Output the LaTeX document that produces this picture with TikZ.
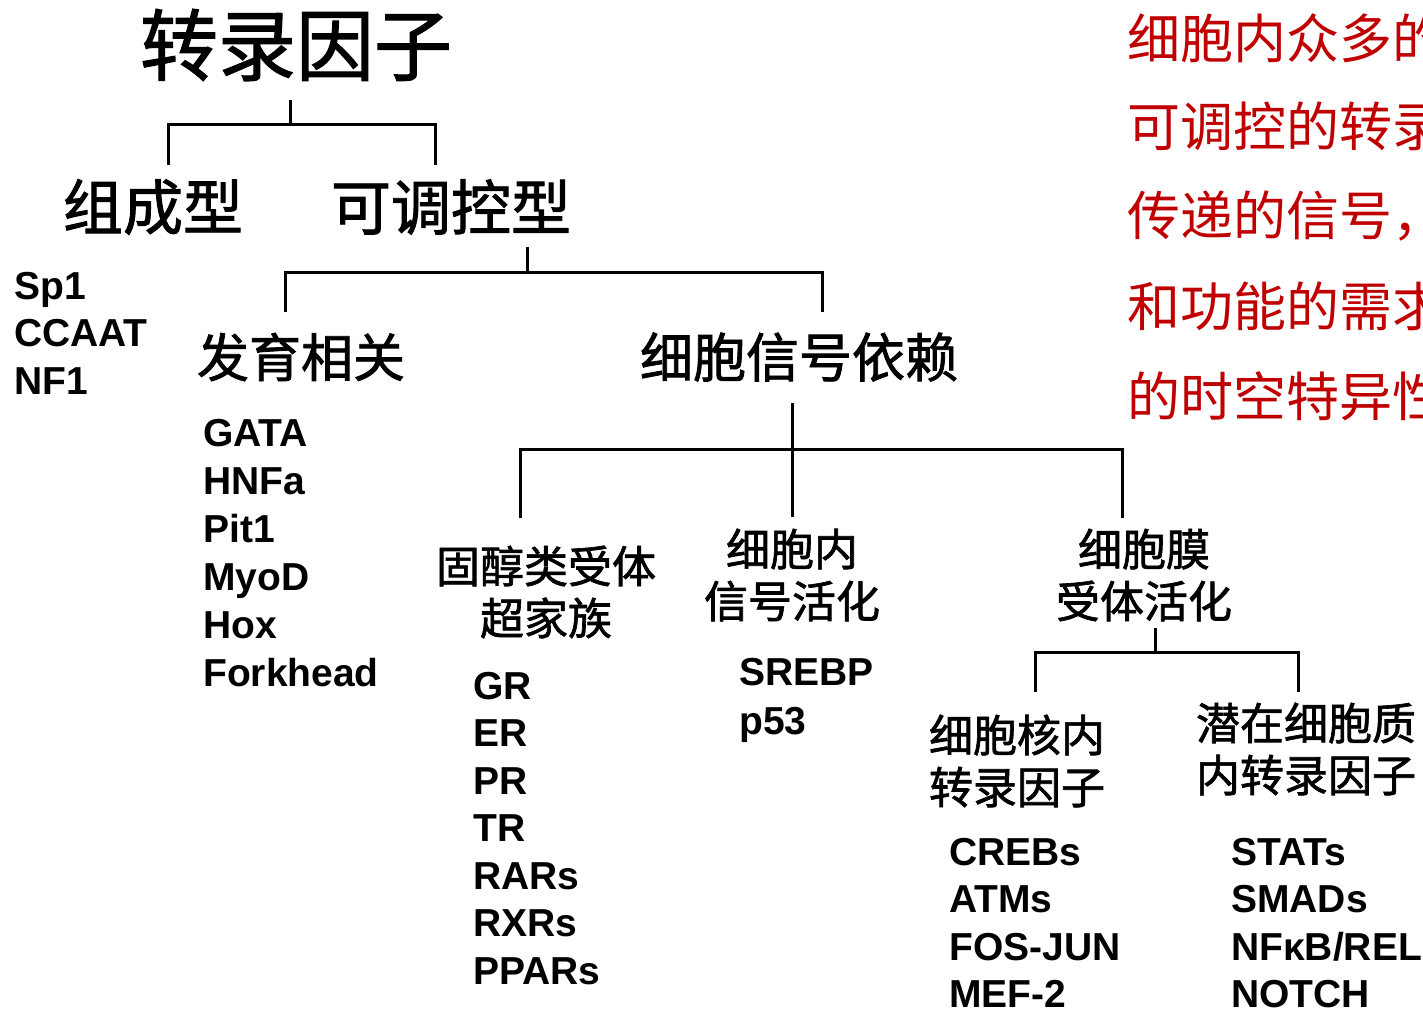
\documentclass[tikz,border=0pt]{standalone}
\usepackage{fontspec}
\setmainfont{Liberation Sans}
\newfontfamily\cjk{Noto Sans CJK SC}[FakeBold=1.5]
\newfontfamily\cjkred{Noto Sans CJK SC}
\definecolor{redtxt}{RGB}{192,0,0}
\begin{document}
\begin{tikzpicture}[x=1pt,y=-1pt,
  br/.style={line width=3pt,black,line join=miter},
  cj/.style={inner sep=0pt,font=\cjk\fontsize{#1}{#1}\selectfont},
  cj2/.style={inner sep=0pt,align=center,font=\cjk\fontsize{44}{52}\selectfont},
  item/.style={inner sep=0pt,anchor=base west,font=\bfseries\fontsize{39}{39}\selectfont},
  rd/.style={inner sep=0pt,anchor=west,text=redtxt,font=\cjkred\fontsize{53}{53}\selectfont}]
\useasboundingbox (0,0) rectangle (1423,1011);
\clip (0,0) rectangle (1423,1011);

% level 0 / 1
\node[cj=78] (title) at (296,45) {转录因子};
\node[cj=60] (const) at (153,207) {组成型};
\node[cj=60] (reg) at (451,207) {可调控型};
\coordinate (s1) at (290,100); \coordinate (j1) at (290,125);
\coordinate (e1a) at (168,165); \coordinate (e1b) at (435,165);
\draw[br] (s1) -- (j1);
\draw[br] (e1a) |- (j1) -| (e1b);

\foreach \t [count=\i] in {Sp1,CCAAT,NF1}
  \node[item] (cst\i) at (14,{299+47.5*(\i-1)}) {\t};

% level 2
\node[cj=52] (dev) at (301,357) {发育相关};
\node[cj=53] (sig) at (799,357) {细胞信号依赖};
\coordinate (s2) at (527,247); \coordinate (j2) at (527,272);
\coordinate (e2a) at (285,312); \coordinate (e2b) at (822,312);
\draw[br] (s2) -- (j2);
\draw[br] (e2a) |- (j2) -| (e2b);

\foreach \t [count=\i] in {GATA,HNFa,Pit1,MyoD,Hox,Forkhead}
  \node[item] (dv\i) at (203,{446+48*(\i-1)}) {\t};

% level 3
\node[cj2] (ster) at (546,592) {固醇类受体\\超家族};
\node[cj2] (intra) at (792,575) {细胞内\\信号活化};
\node[cj2] (memb) at (1144,575) {细胞膜\\受体活化};
\coordinate (s3) at (792,403); \coordinate (j3) at (792,449);
\coordinate (e3a) at (520,518); \coordinate (e3b) at (792,517);
\coordinate (e3c) at (1122,518);
\draw[br] (s3) -- (e3b);
\draw[br] (e3a) |- (j3) -| (e3c);

\foreach \t [count=\i] in {GR,ER,PR,TR,RARs,RXRs,PPARs}
  \node[item] (gr\i) at (473,{699+47.5*(\i-1)}) {\t};
\foreach \t [count=\i] in {SREBP,p53}
  \node[item] (sr\i) at (739,{685+49*(\i-1)}) {\t};

% level 4
\node[cj2] (nuc) at (1017,761) {细胞核内\\转录因子};
\node[cj2] (lat) at (1306,749) {潜在细胞质\\内转录因子};
\coordinate (s4) at (1155,628); \coordinate (j4) at (1155,652);
\coordinate (e4a) at (1035,692); \coordinate (e4b) at (1298,692);
\draw[br] (s4) -- (j4);
\draw[br] (e4a) |- (j4) -| (e4b);

\foreach \t [count=\i] in {CREBs,ATMs,FOS-JUN,MEF-2}
  \node[item] (nc\i) at (949,{865+47.5*(\i-1)}) {\t};
\foreach \t [count=\i] in {STATs,SMADs,NFκB/REL,NOTCH}
  \node[item] (lt\i) at (1231,{865+47.5*(\i-1)}) {\t};

% red text
\node[rd] (r1) at (1127,38) {细胞内众多的};
\node[rd] (r2) at (1127,126) {可调控的转录};
\node[rd] (r3) at (1127,216) {传递的信号，};
\node[rd] (r4) at (1127,306) {和功能的需求};
\node[rd] (r5) at (1127,396) {的时空特异性};
\end{tikzpicture}
\end{document}
